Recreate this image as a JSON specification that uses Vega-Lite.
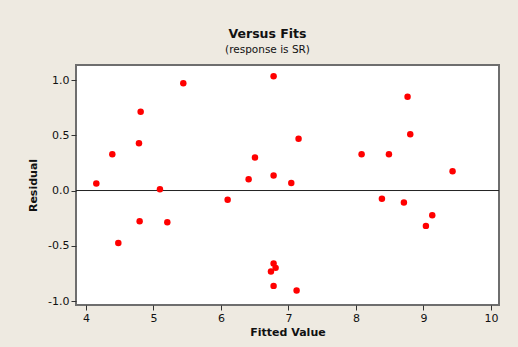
{
  "$schema": "https://vega.github.io/schema/vega-lite/v6.json",
  "autosize": {"type": "none"},
  "padding": {"left": 76, "top": 65, "right": 19, "bottom": 42},
  "width": 423,
  "height": 240,
  "background": "#EEEAE1",
  "config": {
    "font": "DejaVu Sans",
    "view": {"fill": "white", "stroke": "#6e6e6e", "strokeWidth": 2},
    "axis": {
      "grid": false,
      "domain": false,
      "tickColor": "#333333",
      "tickSize": 5,
      "labelColor": "#111111",
      "labelFontSize": 11,
      "labelFont": "DejaVu Sans",
      "titleFont": "DejaVu Sans",
      "titleFontSize": 11,
      "titleFontWeight": "bold",
      "titleColor": "#111111",
      "labelPadding": 2
    }
  },
  "title": {
    "text": "Versus Fits",
    "subtitle": "(response is SR)",
    "fontSize": 12.5,
    "fontWeight": "bold",
    "font": "DejaVu Sans",
    "color": "#111111",
    "subtitleFontSize": 10.5,
    "subtitleFont": "DejaVu Sans",
    "subtitleColor": "#111111",
    "subtitlePadding": 4,
    "anchor": "middle",
    "dx": -20,
    "offset": 10
  },
  "data": {
    "values": [
      {"fit": 4.153, "res": 0.063},
      {"fit": 4.39, "res": 0.329},
      {"fit": 4.479, "res": -0.474},
      {"fit": 4.785, "res": 0.428},
      {"fit": 4.81, "res": 0.712},
      {"fit": 4.795, "res": -0.278},
      {"fit": 5.096, "res": 0.012},
      {"fit": 5.205, "res": -0.287},
      {"fit": 5.442, "res": 0.971},
      {"fit": 6.099, "res": -0.084},
      {"fit": 6.41, "res": 0.103},
      {"fit": 6.504, "res": 0.299},
      {"fit": 6.78, "res": 1.035},
      {"fit": 6.78, "res": 0.136},
      {"fit": 7.042, "res": 0.069},
      {"fit": 7.15, "res": 0.468},
      {"fit": 6.78, "res": -0.661},
      {"fit": 6.81, "res": -0.7},
      {"fit": 6.741, "res": -0.733},
      {"fit": 6.78, "res": -0.863},
      {"fit": 7.121, "res": -0.905},
      {"fit": 8.084, "res": 0.329},
      {"fit": 8.489, "res": 0.329},
      {"fit": 8.385, "res": -0.075},
      {"fit": 8.711, "res": -0.109},
      {"fit": 8.765, "res": 0.848},
      {"fit": 8.805, "res": 0.51},
      {"fit": 9.037, "res": -0.32},
      {"fit": 9.131, "res": -0.223},
      {"fit": 9.432, "res": 0.175}
    ]
  },
  "layer": [
    {
      "data": {"values": [{"zero": 0}]},
      "mark": {"type": "rule", "color": "#222222", "strokeWidth": 1},
      "encoding": {
        "y": {"field": "zero", "type": "quantitative", "scale": {"domain": [-1.036, 1.136]}}
      }
    },
    {
      "mark": {"type": "circle", "color": "#FF0000", "opacity": 1, "size": 42},
      "encoding": {
        "x": {
          "field": "fit",
          "type": "quantitative",
          "title": "Fitted Value",
          "scale": {"domain": [3.852, 10.12], "nice": false, "zero": false},
          "axis": {"values": [4, 5, 6, 7, 8, 9, 10], "format": "d", "titlePadding": 3}
        },
        "y": {
          "field": "res",
          "type": "quantitative",
          "title": "Residual",
          "scale": {"domain": [-1.036, 1.136], "nice": false, "zero": false},
          "axis": {
            "values": [-1, -0.5, 0, 0.5, 1],
            "labelExpr": "replace(format(datum.value, '.1f'), '\u2212', '-')",
            "titlePadding": 9
          }
        }
      }
    }
  ]
}
